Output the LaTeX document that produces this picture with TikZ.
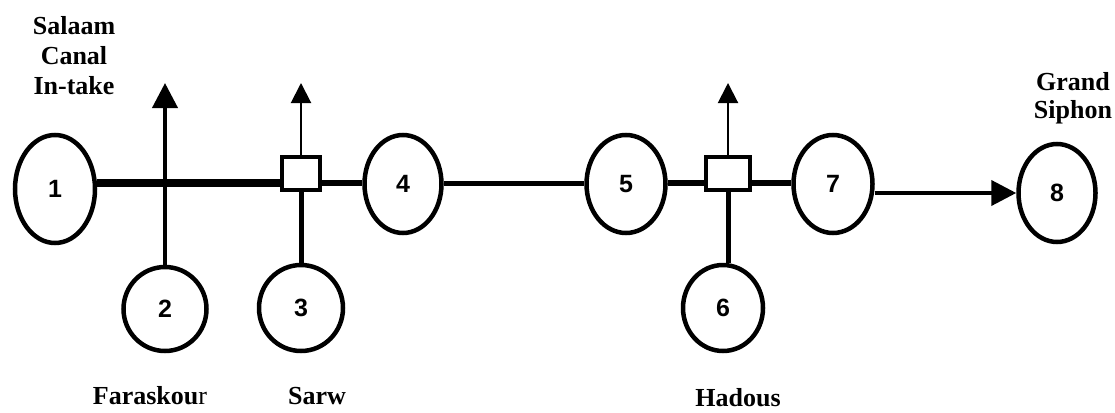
\documentclass[tikz,border=0pt]{standalone}
\usepackage{fontspec}
\setmainfont{Liberation Serif}
\newfontfamily\numfont{Liberation Sans}
\usetikzlibrary{arrows.meta,shapes.geometric}
\begin{document}
\begin{tikzpicture}[x=1pt,y=-1pt,
  stn/.style={draw, ellipse, line width=4.5pt, inner sep=0pt, fill=white,
    font=\numfont\bfseries\fontsize{25}{25}\selectfont},
  gate/.style={draw, rectangle, line width=4pt, inner sep=0pt, fill=white, minimum height=33pt},
  lbl/.style={font=\bfseries\fontsize{26}{30}\selectfont, inner sep=0pt, align=center},
  lblb/.style={font=\bfseries\fontsize{26}{28}\selectfont, inner sep=0pt, align=center},
  bigtip/.style={-{Triangle[length=25pt,width=25pt]}},
  smalltip/.style={-{Triangle[length=20pt,width=20pt]}}]
\useasboundingbox (0,0) rectangle (1115,412);
\coordinate (ml) at (0,183);
\coordinate (top) at (0,83);

\node[stn, minimum width=80pt, minimum height=108pt] (n1) at (55,189) {1};
\node[stn, minimum width=83pt, minimum height=84pt] (n2) at (165,309) {2};
\node[stn, minimum width=84pt, minimum height=86pt] (n3) at (301,308) {3};
\node[stn, minimum width=77pt, minimum height=98pt] (n4) at (403,184) {4};
\node[stn, minimum width=79pt, minimum height=98pt] (n5) at (626,184) {5};
\node[stn, minimum width=80pt, minimum height=86pt] (n6) at (723,308) {6};
\node[stn, minimum width=79pt, minimum height=98pt] (n7) at (833,184) {7};
\node[stn, minimum width=77pt, minimum height=98pt] (n8) at (1057,193) {8};

\node[gate, minimum width=38pt] (sq1) at (301,173.5) {};
\node[gate, minimum width=44pt] (sq2) at (728,173.5) {};

% main line
\draw[line width=8pt] (n1.east |- ml) -- (sq1.west |- ml);
\draw[line width=6pt] (sq1.east |- ml) -- (n4.west |- ml);
\draw[line width=5pt] (n4.east |- ml) -- (n5.west |- ml);
\draw[line width=6pt] (n5.east |- ml) -- (sq2.west |- ml);
\draw[line width=6pt] (sq2.east |- ml) -- (n7.west |- ml);
\draw[line width=4pt, bigtip] (n7.east |- n8) -- (n8.west);

% verticals
\draw[line width=4pt, bigtip] (n2.north) -- (n2.north |- top);
\draw[line width=2pt, smalltip] (sq1.north) -- (sq1.north |- top);
\draw[line width=5pt] (sq1.south) -- (n3.north);
\draw[line width=2pt, smalltip] (sq2.north) -- (sq2.north |- top);
\draw[line width=5pt] (sq2.south) -- (sq2.south |- n6.north);

% labels
\node[lbl, anchor=north] (lab1) at (74,16) {Salaam\\Canal\\In-take};
\node[lblb, anchor=north] (lab8) at (1073,72) {Grand\\Siphon};
\node[lbl, anchor=base] (lab2) at (150,404) {Faraskou\textmd{r}};
\node[lbl, anchor=base] (lab3) at (317,404) {Sarw};
\node[lbl, anchor=base] (lab6) at (738,406) {Hadous};
\end{tikzpicture}
\end{document}
